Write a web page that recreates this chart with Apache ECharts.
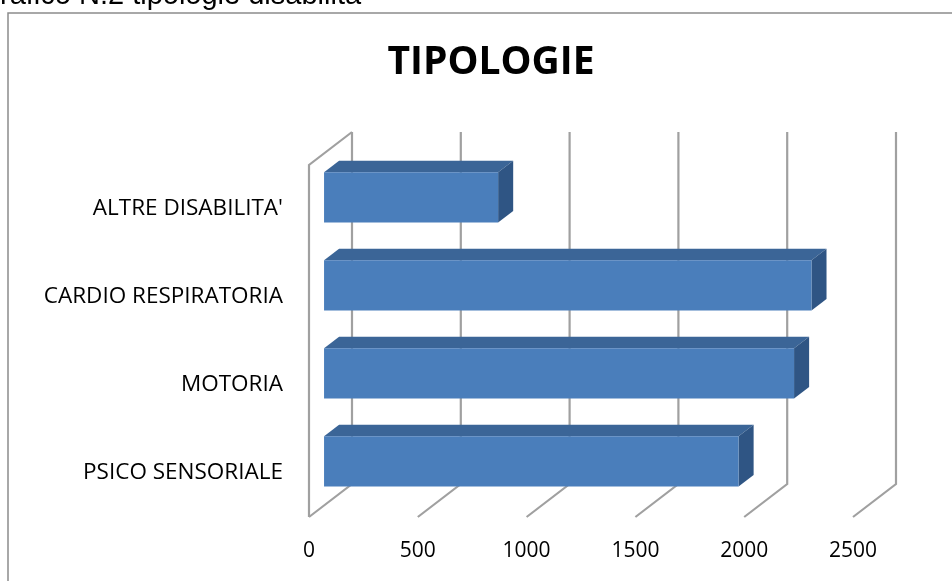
<!DOCTYPE html>
<html>
<head>
<meta charset="utf-8">
<script src="https://cdn.jsdelivr.net/npm/echarts@6/dist/echarts.min.js"></script>
<style>
  html, body { margin: 0; padding: 0; background: #fff; }
  #chart { width: 952px; height: 581px; }
</style>
</head>
<body>
<div id="chart"></div>
<script>
const categories = ["ALTRE DISABILITA'", 'CARDIO RESPIRATORIA', 'MOTORIA', 'PSICO SENSORIALE']
const values = [800, 2240, 2160, 1905]
const xTicks = [0, 500, 1000, 1500, 2000, 2500]

// 3D look: offset of the back wall from the front plane
const DX = 43
const DY = -33
const BAR_FRONT = 0.35
const BAR_BACK = 0.70
const wallColor = '#a0a0a0'

const chart = echarts.init(document.getElementById('chart'))

const renderWall = (params, api) => {
  const v = api.value(0)
  const cs = params.coordSys
  const x = api.coord([v, 0])[0]
  const yT = cs.y
  const yB = cs.y + cs.height
  const style = { stroke: wallColor, lineWidth: 2.2, fill: null }
  const children = [
    { type: 'polyline', shape: { points: [[x, yB], [x + DX, yB + DY], [x + DX, yT + DY]] }, style }
  ]
  if (v === 0) {
    children.push({ type: 'polyline', shape: { points: [[x + DX, yT + DY], [x, yT], [x, yB]] }, style })
  }
  return { type: 'group', children }
}

const renderBar = (params, api) => {
  const idx = api.value(1)
  const start = api.coord([0, idx])
  const end = api.coord([api.value(0), idx])
  const band = api.size([0, 1])[1]
  const h = band * 0.57
  const x0 = start[0] + BAR_FRONT * DX
  const x1 = end[0] + BAR_FRONT * DX
  const yc = start[1] + BAR_FRONT * DY
  const top = yc - h / 2
  const bot = yc + h / 2
  const bdx = (BAR_BACK - BAR_FRONT) * DX
  const bdy = (BAR_BACK - BAR_FRONT) * DY
  return {
    type: 'group',
    children: [
      { type: 'polygon', shape: { points: [[x0, top], [x1, top], [x1 + bdx, top + bdy], [x0 + bdx, top + bdy]] },
        style: { fill: '#3b6597' } },
      { type: 'polygon', shape: { points: [[x1, top], [x1 + bdx, top + bdy], [x1 + bdx, bot + bdy], [x1, bot]] },
        style: { fill: '#2f5584' } },
      { type: 'rect', shape: { x: x0, y: top, width: x1 - x0, height: h },
        style: { fill: '#4a7ebb' } }
    ]
  }
}

const option = {
  backgroundColor: '#fff',
  animation: false,
  title: {
    text: 'TIPOLOGIE',
    left: 486,
    top: 38,
    textAlign: 'center',
    textStyle: { fontFamily: 'Open Sans', fontWeight: 'bold', fontSize: 39, color: '#000' }
  },
  graphic: [
    { type: 'rect', shape: { x: 8, y: 13, width: 1000, height: 700 },
      style: { fill: null, stroke: '#8c8c8c', lineWidth: 1.5 }, z: -1 },
    { type: 'text', x: 0, y: 10,
      style: { text: 'rafico N.2 tipologie disabilita', verticalAlign: 'bottom',
        font: '29px "Liberation Sans", Arial, sans-serif', fill: '#000' } }
  ],
  grid: {
    left: 309,
    right: 99,
    top: 165,
    bottom: 64
  },
  xAxis: {
    type: 'value',
    min: 0,
    max: 2500,
    interval: 500,
    axisLine: { show: false },
    axisTick: { show: false },
    splitLine: { show: false },
    axisLabel: { color: '#000', fontFamily: 'Open Sans', fontSize: 21, margin: 24, formatter: v => String(v) }
  },
  yAxis: {
    type: 'category',
    inverse: true,
    data: categories,
    axisLine: { show: false },
    axisTick: { show: false },
    splitLine: { show: false },
    axisLabel: { color: '#000', fontFamily: 'Open Sans', fontSize: 22.5, margin: 26 }
  },
  series: [
    {
      type: 'custom',
      renderItem: renderWall,
      data: xTicks.map(v => [v]),
      encode: { x: 0 },
      silent: true,
      z: 1
    },
    {
      type: 'custom',
      renderItem: renderBar,
      data: values.map((v, i) => [v, i]),
      encode: { x: 0, y: 1 },
      z: 2
    }
  ]
}

chart.setOption(option)
</script>
</body>
</html>
